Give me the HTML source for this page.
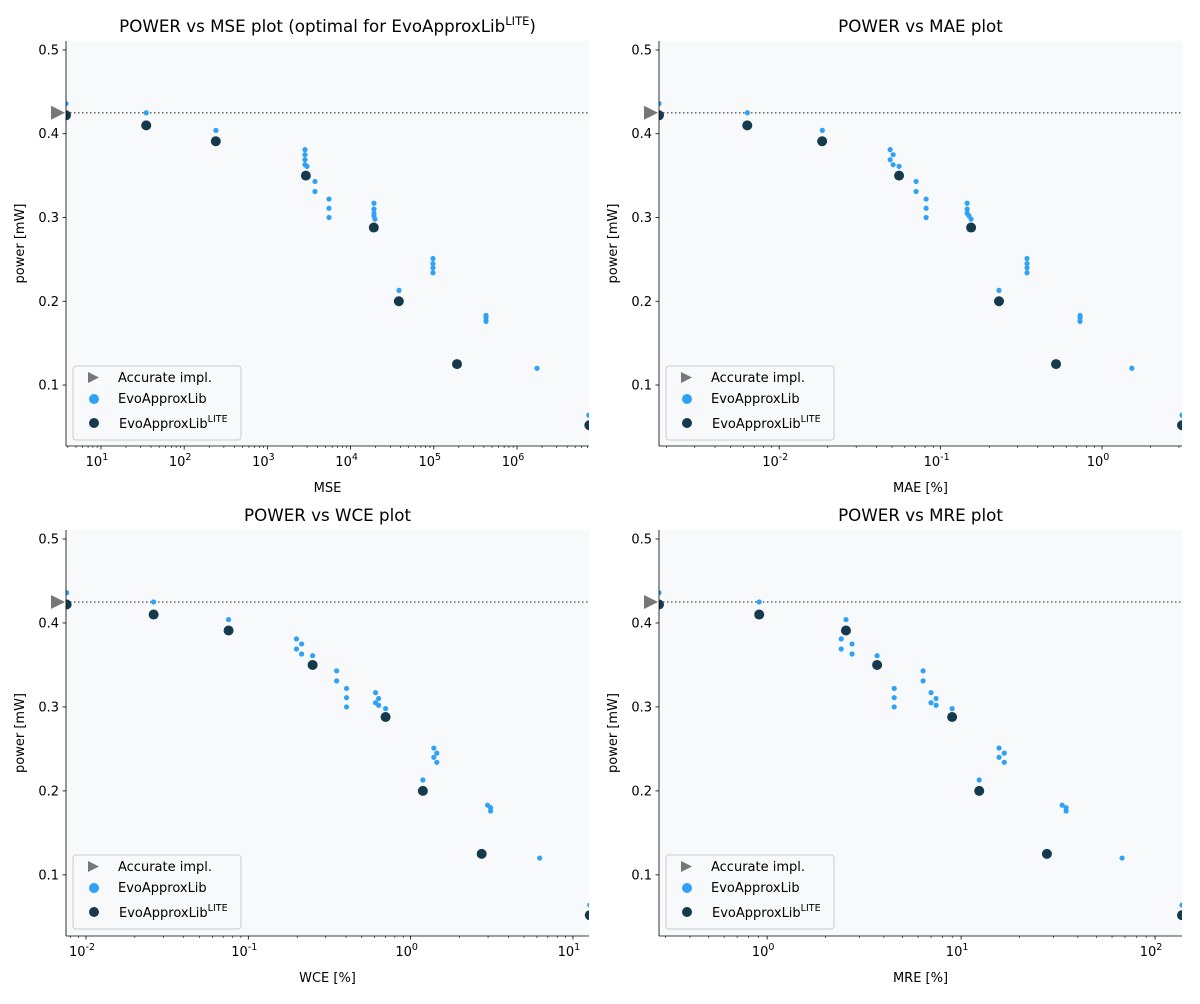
<!DOCTYPE html>
<html><head><meta charset="utf-8"><style>
body{margin:0;background:#fff;font-family:"DejaVu Sans","Liberation Sans",sans-serif;}
svg text{font-family:"DejaVu Sans","Liberation Sans",sans-serif;fill:#000;}
</style></head><body>
<svg id="fig" width="1200" height="1000" xmlns="http://www.w3.org/2000/svg"></svg>
<script>
const powerEvo = [0.436,0.425,0.404,0.381,0.375,0.369,0.363,0.361,0.343,0.331,0.322,0.311,0.300,0.317,0.310,0.305,0.302,0.298,0.213,0.251,0.245,0.240,0.234,0.183,0.180,0.176,0.120,0.064];
const mseEvo = [3.8,35,241,2830,2830,2830,2830,2990,3730,3730,5500,5500,5500,19100,19100,19100,19100,19600,38200,97700,97700,97700,97700,424000,424000,424000,1740000,7300000];
const maeEvo = [0.0018,0.00635,0.0185,0.0487,0.0508,0.0487,0.0508,0.0553,0.0705,0.0705,0.0813,0.0813,0.0813,0.146,0.146,0.146,0.150,0.1545,0.230,0.343,0.343,0.343,0.343,0.731,0.731,0.731,1.53,3.13];
const wceEvo = [0.0076,0.0261,0.0756,0.198,0.213,0.198,0.213,0.249,0.350,0.350,0.403,0.403,0.403,0.608,0.635,0.608,0.635,0.701,1.19,1.39,1.45,1.39,1.45,2.98,3.11,3.11,6.24,12.7];
const mreEvo = [0.277,0.91,2.55,2.41,2.74,2.41,2.74,3.69,6.37,6.37,4.52,4.52,4.52,7.00,7.43,7.00,7.43,8.99,12.4,15.7,16.7,15.7,16.7,33.2,34.8,34.8,67.6,137.7];
const powerLite = [0.422,0.410,0.391,0.350,0.288,0.200,0.125,0.052];
const mseLite = [3.8,35,240,2900,19000,38000,190000,7400000];
const maeLite = [0.0018,0.00634,0.01845,0.0553,0.1545,0.230,0.519,3.13];
const wceLite = [0.0076,0.0261,0.0756,0.249,0.701,1.19,2.74,12.7];
const mreLite = [0.277,0.91,2.55,3.69,8.99,12.4,27.7,137.7];
const accuratePower = 0.425;
const yTicks = [0.1,0.2,0.3,0.4,0.5];

const NS='http://www.w3.org/2000/svg';
const fig=document.getElementById('fig');
function el(tag,attrs,parent){const e=document.createElementNS(NS,tag);for(const k in attrs)e.setAttribute(k,attrs[k]);(parent||fig).appendChild(e);return e;}

const panels=[
 {id:'mse',title:'POWER vs MSE plot (optimal for EvoApproxLib',sup:true,xl:'MSE',x0:66,x1:589,y0:41,y1:446,dmin:3.8,dmax:7.33e6,ex:mseEvo,lx:mseLite},
 {id:'mae',title:'POWER vs MAE plot',xl:'MAE [%]',x0:659,x1:1182,y0:41,y1:446,dmin:0.0018,dmax:3.13,ex:maeEvo,lx:maeLite},
 {id:'wce',title:'POWER vs WCE plot',xl:'WCE [%]',x0:66,x1:589,y0:530,y1:936,dmin:0.00753,dmax:12.56,ex:wceEvo,lx:wceLite},
 {id:'mre',title:'POWER vs MRE plot',xl:'MRE [%]',x0:659,x1:1182,y0:530,y1:936,dmin:0.277,dmax:137.7,ex:mreEvo,lx:mreLite}
];
const ymin=0.0272,ymax=0.5107;

panels.forEach(p=>{
 const g=el('g',{});
 
 
 const lmin=Math.log10(p.dmin),lmax=Math.log10(p.dmax);
 const X=v=>p.x0+(Math.log10(v)-lmin)/(lmax-lmin)*(p.x1-p.x0);
 const Y=v=>p.y1-(v-ymin)/(ymax-ymin)*(p.y1-p.y0);
 const bg=el('rect',{x:p.x0,y:p.y0,width:p.x1-p.x0,height:p.y1-p.y0,fill:'#f8f9fb'},g);
 
 
 const cid='clip-'+p.id;
 const cp=el('clipPath',{id:cid},g);el('rect',{x:p.x0,y:p.y0,width:p.x1-p.x0,height:p.y1-p.y0},cp);
 const t=el('text',{x:(p.x0+p.x1)/2,y:p.y0-9,'text-anchor':'middle','font-size':'16.7'},g);
 
 
 t.textContent=p.title;
 if(p.sup){const s=el('tspan',{dy:'-7','font-size':'11.5'},t);s.textContent='LITE';const s2=el('tspan',{dy:'7'},t);s2.textContent=')';}
 yTicks.forEach(v=>{const y=Y(v);el('line',{x1:p.x0-3.5,x2:p.x0,y1:y,y2:y,stroke:'#000','stroke-width':0.8},g);
  const tl=el('text',{x:p.x0-7,y:y+4.5,'text-anchor':'end','font-size':'13'},g);
  
  
  tl.textContent=v.toFixed(1);});
 for(let e=Math.floor(lmin);e<=Math.ceil(lmax);e++){
  for(let m=1;m<10;m++){const v=m*Math.pow(10,e);if(v<p.dmin||v>p.dmax)continue;const x=X(v);
   el('line',{x1:x,x2:x,y1:p.y1,y2:p.y1+(m==1?3.5:2),stroke:'#000','stroke-width':m==1?0.8:0.6},g);
   if(m==1){const tl=el('text',{x:x-4,y:p.y1+20,'text-anchor':'middle','font-size':'13'},g);
    
    
    tl.textContent='10';const s=el('tspan',{dy:'-6','font-size':'9.5'},tl);s.textContent=String(e);}
  }
 }
 const xl=el('text',{x:(p.x0+p.x1)/2,y:p.y1+46,'text-anchor':'middle','font-size':'13'},g);
 
 
 xl.textContent=p.xl;
 const yc=(p.y0+p.y1)/2;
 const yl=el('text',{x:p.x0-42,y:yc,'text-anchor':'middle','font-size':'13',transform:`rotate(-90 ${p.x0-42} ${yc})`},g);
 
 
 yl.textContent='power [mW]';
 const rl=el('line',{x1:p.x0,x2:p.x1,y1:Y(accuratePower),y2:Y(accuratePower),stroke:'#666','stroke-width':1.5,'stroke-dasharray':'1.5,2.5'},g);
 
 
 const pts=el('g',{'clip-path':`url(#${cid})`},g);
 p.ex.forEach((v,i)=>{const c=el('circle',{cx:X(v),cy:Y(powerEvo[i]),r:2.6,fill:'#2fa2f6'},pts);
  
  });
 p.lx.forEach((v,i)=>{const c=el('circle',{cx:X(v),cy:Y(powerLite[i]),r:5,fill:'#163a4d'},pts);
  
  });
 const ay=Y(accuratePower);
 const tri=el('polygon',{points:`${p.x0-15},${ay-7} ${p.x0-15},${ay+7} ${p.x0-1},${ay}`,fill:'#777'},g);
 
 
 el('line',{x1:p.x0,x2:p.x0,y1:p.y0,y2:p.y1,stroke:'#000','stroke-width':0.8},g);
 el('line',{x1:p.x0,x2:p.x1,y1:p.y1,y2:p.y1,stroke:'#000','stroke-width':0.8},g);
 const lg=el('g',{},g);
 
 
 const lx=p.x0+7,ly=p.y0+325;
 el('rect',{x:lx,y:ly,width:168,height:74,rx:3,fill:'#f8f9fb',stroke:'#ccc','stroke-width':1},lg);
 el('polygon',{points:`${lx+15},${ly+6} ${lx+15},${ly+17} ${lx+26},${ly+11.5}`,fill:'#777'},lg);
 el('circle',{cx:lx+21,cy:ly+33,r:5,fill:'#2fa2f6'},lg);
 el('circle',{cx:lx+21,cy:ly+57,r:5,fill:'#163a4d'},lg);
 const e1=el('text',{x:lx+45,y:ly+16,'font-size':'13'},lg);e1.textContent='Accurate impl.';
 
 
 const e2=el('text',{x:lx+45,y:ly+37,'font-size':'13'},lg);e2.textContent='EvoApproxLib';
 
 
 const e3=el('text',{x:lx+46,y:ly+62,'font-size':'13'},lg);e3.textContent='EvoApproxLib';
 
 
 const s3=el('tspan',{dy:'-6','font-size':'9.5'},e3);s3.textContent='LITE';
});
</script>
</body></html>
